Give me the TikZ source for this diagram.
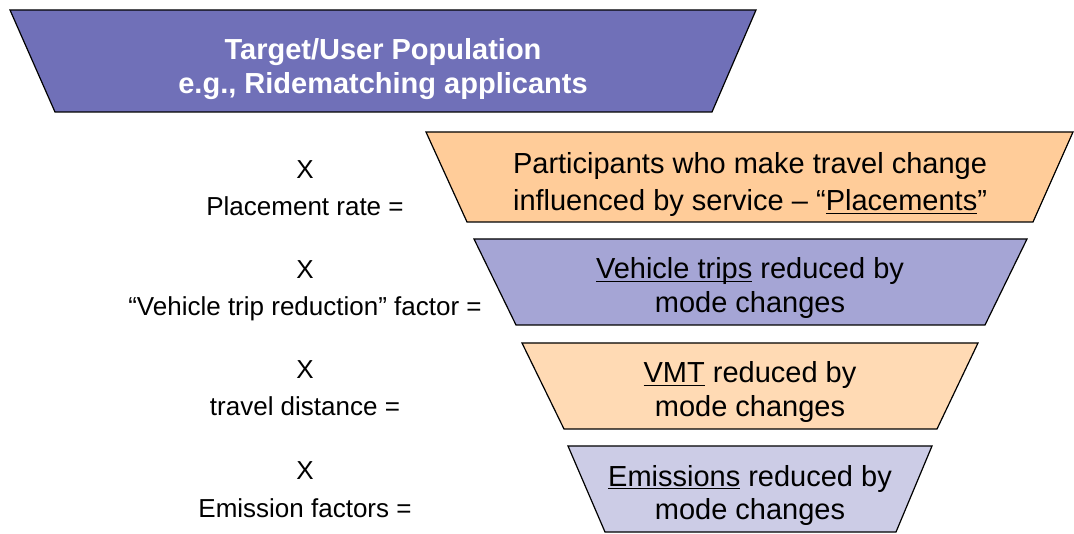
\documentclass[tikz,border=0pt]{standalone}
\usepackage{fontspec}
\setmainfont{Liberation Sans}
\newcommand\myul[1]{\setbox0\hbox{#1}\rlap{\rule[-3.2pt]{\wd0}{1.6pt}}\box0\relax}
\definecolor{cA}{RGB}{112,112,184}
\definecolor{cB}{RGB}{255,204,153}
\definecolor{cC}{RGB}{165,165,213}
\definecolor{cD}{RGB}{255,218,180}
\definecolor{cE}{RGB}{204,204,230}
\begin{document}
\begin{tikzpicture}[x=1pt,y=-1pt,
  trap/.style={draw=black, line width=1.2pt, line join=miter},
  tline/.style={anchor=base, inner sep=0pt, font=\fontsize{29}{34}\selectfont},
  hline/.style={anchor=base, inner sep=0pt, font=\fontsize{29}{34}\selectfont\bfseries, text=white},
  lline/.style={anchor=base, inner sep=0pt, font=\fontsize{26}{30}\selectfont}]
\useasboundingbox (0,0) rectangle (1074,534);
% trapezoids
\filldraw[trap, fill=cA] (10,10) -- (756,10) -- (712,112) -- (55,112) -- cycle;
\filldraw[trap, fill=cB] (426,132) -- (1073,132) -- (1033,222) -- (467,222) -- cycle;
\filldraw[trap, fill=cC] (474,239) -- (1027,239) -- (985,325) -- (516,325) -- cycle;
\filldraw[trap, fill=cD] (522,343) -- (978,343) -- (937,429) -- (564,429) -- cycle;
\filldraw[trap, fill=cE] (568,446) -- (932,446) -- (896,532) -- (605,532) -- cycle;
% top text
\node[hline] (h1) at (383,60) {Target/User Population};
\node[hline] (h2) at (383,94) {e.g., Ridematching applicants};
% trapezoid texts
\node[tline] (p1) at (750,174) {Participants who make travel change};
\node[tline] (p2) at (750,211) {influenced by service – “\myul{Placements}”};
\node[tline] (v1) at (750,279) {\myul{Vehicle trips} reduced by};
\node[tline] (v2) at (750,313) {mode changes};
\node[tline] (m1) at (750,383) {\myul{VMT} reduced by};
\node[tline] (m2) at (750,417) {mode changes};
\node[tline] (e1) at (750,486) {\myul{Emissions} reduced by};
\node[tline] (e2) at (750,519) {mode changes};
% left labels
\node[lline] (x1) at (305,179) {X};
\node[lline] (l1) at (305,216) {Placement rate =};
\node[lline] (x2) at (305,279) {X};
\node[lline] (l2) at (305,316) {“Vehicle trip reduction” factor =};
\node[lline] (x3) at (305,379) {X};
\node[lline] (l3) at (305,416) {travel distance =};
\node[lline] (x4) at (305,479) {X};
\node[lline] (l4) at (305,517) {Emission factors =};
\end{tikzpicture}
\end{document}
